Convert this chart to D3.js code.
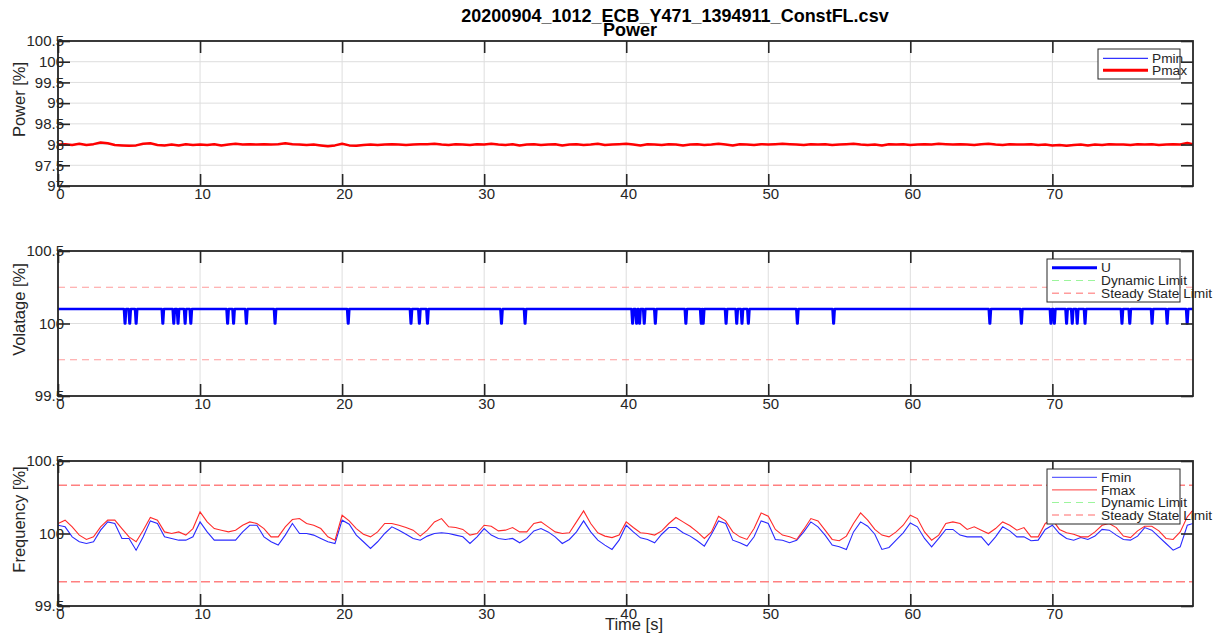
<!DOCTYPE html>
<html>
<head>
<meta charset="utf-8">
<script src="https://cdn.jsdelivr.net/npm/d3@7"></script>
<style>
  body { margin: 0; background: #fff; }
  svg { font-family: "Liberation Sans", Arial, sans-serif; }
</style>
</head>
<body>
<svg id="chart" width="1221" height="634"></svg>
<script>
// sample times [s] (0.5 s grid)
const sampleTime = [
  0,0.5,1,1.5,2,2.5,3,3.5,4,4.5, 5,5.5,6,6.5,7,7.5,8,8.5,9,9.5,
  10,10.5,11,11.5,12,12.5,13,13.5,14,14.5, 15,15.5,16,16.5,17,17.5,18,18.5,19,19.5,
  20,20.5,21,21.5,22,22.5,23,23.5,24,24.5, 25,25.5,26,26.5,27,27.5,28,28.5,29,29.5,
  30,30.5,31,31.5,32,32.5,33,33.5,34,34.5, 35,35.5,36,36.5,37,37.5,38,38.5,39,39.5,
  40,40.5,41,41.5,42,42.5,43,43.5,44,44.5, 45,45.5,46,46.5,47,47.5,48,48.5,49,49.5,
  50,50.5,51,51.5,52,52.5,53,53.5,54,54.5, 55,55.5,56,56.5,57,57.5,58,58.5,59,59.5,
  60,60.5,61,61.5,62,62.5,63,63.5,64,64.5, 65,65.5,66,66.5,67,67.5,68,68.5,69,69.5,
  70,70.5,71,71.5,72,72.5,73,73.5,74,74.5, 75,75.5,76,76.5,77,77.5,78,78.5,79,79.5,
  79.9
];

// power [%]
const pMax = [
  98.00,98.01,97.99,98.02,97.99,98.01,98.05,98.03,97.99,97.98,
  97.97,97.98,98.02,98.03,97.99,97.98,98.00,97.98,98.01,97.99,
  98.00,97.99,98.01,97.98,98.00,98.02,98.00,98.01,98.00,98.01,
  98.00,98.01,98.03,98.01,98.00,97.99,98.00,97.98,97.96,97.98,
  98.02,97.98,97.97,97.99,98.00,97.99,98.00,98.01,98.00,97.99,
  98.00,98.01,98.01,98.02,98.00,97.99,98.01,98.00,97.99,98.01,
  98.00,98.02,98.00,97.99,98.01,97.98,98.00,98.01,97.99,98.00,
  98.01,97.98,98.00,98.01,97.99,98.00,98.02,97.99,98.00,98.01,
  98.02,98.00,97.98,98.01,98.00,97.99,98.01,98.00,97.98,98.00,
  98.01,97.99,98.00,98.02,98.00,97.98,98.01,98.00,97.99,98.01,
  98.00,98.01,98.02,98.01,98.00,97.99,98.01,98.00,98.01,97.99,
  98.00,98.01,98.02,98.00,97.99,98.00,97.98,98.01,98.00,98.01,
  97.99,98.00,98.01,98.00,98.02,98.01,98.00,98.01,98.00,97.99,
  98.01,98.02,98.00,97.99,98.01,98.00,98.00,98.01,97.99,98.00,
  97.98,97.99,97.97,97.99,98.00,97.98,98.00,97.99,98.01,98.00,
  98.00,97.99,98.01,98.00,98.01,97.99,98.00,98.01,98.00,98.04,
  98.01
];
// Pmin lies completely under the Pmax trace
const pMin = pMax;

// voltage [%]: flat level with short dips
const uLevel = 100.1;
const uLow = 100.0;
const uDipTimes = [4.72, 5.05, 5.5, 7.38, 8.15, 8.45, 8.95, 9.35, 11.94, 12.36, 13.26, 15.28,
  20.43, 24.85, 25.44, 26.01, 31.22, 32.88, 40.45, 40.73, 40.94, 41.27, 42.05, 44.2,
  45.28, 45.42, 47.03, 47.78, 48.15, 48.6, 52.05, 54.6, 65.6, 67.82, 69.9, 70.14,
  71.0, 71.4, 71.75, 72.3, 74.9, 75.45, 77.02, 78.08, 79.49];
const uSteadyLimit = [99.75, 100.25];

// frequency [%]
const fMax = [
  100.069,100.092,100.046,99.989,99.959,99.977,100.046,100.092,100.092,100.034,
  99.977,99.943,100.023,100.110,100.092,100.011,100.000,100.011,99.989,100.034,
  100.149,100.080,100.034,100.023,100.011,100.023,100.057,100.080,100.069,100.034,
  99.977,99.977,100.046,100.096,100.103,100.069,100.057,100.034,99.977,99.954,
  100.126,100.087,100.034,99.995,99.977,100.011,100.069,100.069,100.057,100.041,
  100.023,99.982,100.023,100.080,100.103,100.046,100.041,100.028,99.989,100.000,
  100.057,100.050,100.018,100.023,100.041,100.011,100.011,100.069,100.080,100.046,
  100.011,100.000,100.005,100.080,100.156,100.069,100.005,99.982,99.972,99.989,
  100.080,100.041,100.005,100.000,99.989,100.018,100.069,100.110,100.080,100.050,
  100.011,99.966,100.011,100.119,100.087,100.011,99.977,99.959,100.034,100.142,
  100.119,100.028,99.989,99.977,99.959,100.028,100.103,100.087,100.023,99.959,
  99.950,99.982,100.069,100.142,100.092,100.028,99.989,99.977,100.011,100.057,
  100.126,100.103,100.011,99.954,99.989,100.069,100.080,100.069,100.028,100.046,
  100.023,100.000,100.034,100.080,100.057,100.023,100.041,99.977,99.977,100.069,
  100.096,100.028,100.005,99.995,99.977,99.977,100.011,100.057,100.069,100.041,
  99.982,99.972,100.018,100.050,100.050,100.018,99.966,99.959,100.011,100.115,
  100.161
];
const fMin = [
  100.057,100.046,99.977,99.943,99.931,99.943,100.023,100.080,100.069,99.966,
  99.966,99.885,99.977,100.087,100.069,99.977,99.966,99.954,99.954,99.977,
  100.080,100.011,99.954,99.954,99.954,99.954,100.011,100.057,100.057,99.977,
  99.943,99.920,99.989,100.069,100.000,100.000,99.989,99.966,99.943,99.931,
  100.092,100.064,99.989,99.943,99.897,99.943,100.000,100.046,100.023,99.995,
  99.966,99.954,99.982,100.000,100.005,100.000,99.989,99.977,99.931,99.977,
  100.034,99.989,99.966,99.959,99.966,99.936,99.966,100.018,100.034,100.011,
  99.977,99.931,99.959,100.011,100.087,100.011,99.954,99.920,99.890,99.954,
  100.057,100.011,99.970,99.959,99.936,99.995,100.041,100.041,100.005,99.982,
  99.950,99.913,99.995,100.087,100.069,99.954,99.936,99.913,99.977,100.087,
  100.069,99.959,99.954,99.936,99.954,100.011,100.080,100.046,99.989,99.920,
  99.908,99.890,100.011,100.080,100.050,99.995,99.890,99.904,99.954,100.005,
  100.073,100.046,99.966,99.908,99.966,100.028,100.028,99.989,99.977,99.977,
  99.977,99.920,99.977,100.046,100.018,99.977,99.977,99.950,99.954,100.028,
  100.057,100.000,99.966,99.954,99.972,99.959,99.982,100.028,100.023,99.989,
  99.959,99.954,99.982,100.041,100.023,99.977,99.931,99.885,99.908,100.057,
  100.069
];
const fSteadyLimit = [99.667, 100.333];

// axis ticks
const timeTicks = [0, 10, 20, 30, 40, 50, 60, 70];
const powerTicks = [97, 97.5, 98, 98.5, 99, 99.5, 100, 100.5];
const pctTicks = [99.5, 100, 100.5];

const titleText = "20200904_1012_ECB_Y471_1394911_ConstFL.csv";

const ink = "#262626";
const svg = d3.select("#chart");

let x = d3.scaleLinear().domain([0, 79.9]).range([58, 1193]);

// each subplot: its box, scale and label
let panels = [
  {top: 41, bottom: 186, domain: [97, 100.5], ticks: powerTicks, label: "Power [%]"},
  {top: 251, bottom: 396, domain: [99.5, 100.5], ticks: pctTicks, label: "Volatage [%]"},
  {top: 461, bottom: 606, domain: [99.5, 100.5], ticks: pctTicks, label: "Frequency [%]"}
];

panels.forEach((p, i) => {
  p.y = d3.scaleLinear().domain(p.domain).range([p.bottom, p.top]);
  p.g = svg.append("g");

  svg.append("clipPath").attr("id", "clip" + i)
    .append("rect")
    .attr("x", 58).attr("y", p.top)
    .attr("width", 1193 - 58).attr("height", p.bottom - p.top);

  // grid
  p.g.selectAll(".vgrid").data(timeTicks).enter().append("line")
    .attr("x1", d => x(d)).attr("x2", d => x(d))
    .attr("y1", p.top).attr("y2", p.bottom)
    .attr("stroke", "#dedede").attr("stroke-width", 1);
  p.g.selectAll(".hgrid").data(p.ticks).enter().append("line")
    .attr("x1", 58).attr("x2", 1193)
    .attr("y1", d => p.y(d)).attr("y2", d => p.y(d))
    .attr("stroke", "#dedede").attr("stroke-width", 1);

  p.data = p.g.append("g").attr("clip-path", `url(#clip${i})`);
});

function drawAxes(p) {
  let g = svg.append("g").attr("fill", ink);

  let left = g.append("g").attr("transform", "translate(58,0)")
    .call(d3.axisLeft(p.y).tickValues(p.ticks).tickSize(-12).tickSizeOuter(0).tickPadding(-6)
      .tickFormat(d3.format("")));
  let right = g.append("g").attr("transform", "translate(1193,0)")
    .call(d3.axisRight(p.y).tickValues(p.ticks).tickSize(-12).tickSizeOuter(0).tickFormat(""));
  let top = g.append("g").attr("transform", `translate(0,${p.top})`)
    .call(d3.axisTop(x).tickValues(timeTicks).tickSize(-12).tickSizeOuter(0).tickFormat(""));
  let bottom = g.append("g").attr("transform", `translate(0,${p.bottom})`)
    .call(d3.axisBottom(x).tickValues(timeTicks).tickSize(-12).tickSizeOuter(0).tickPadding(2));

  [left, right, top, bottom].forEach(a => {
    a.select(".domain").remove();
    a.selectAll("line").attr("stroke", ink).attr("stroke-width", 1.6);
    a.selectAll("text").attr("fill", ink).style("font-size", "15px")
      .style("font-family", '"Liberation Sans", Arial, sans-serif');
  });
  bottom.selectAll("text").attr("x", 2);

  g.append("rect")
    .attr("x", 58).attr("y", p.top)
    .attr("width", 1193 - 58).attr("height", p.bottom - p.top)
    .attr("fill", "none").attr("stroke", ink).attr("stroke-width", 1.8);

  svg.append("text")
    .attr("transform", `translate(25,${(p.top + p.bottom) / 2 - 14}) rotate(-90)`)
    .attr("text-anchor", "middle")
    .attr("fill", ink)
    .style("font-size", "16.5px")
    .text(p.label);
}

function drawLegend(box, rows, rowStep, entries) {
  let g = svg.append("g");
  g.append("rect")
    .attr("x", box.x).attr("y", box.y).attr("width", box.w).attr("height", box.h)
    .attr("fill", "#fff").attr("stroke", ink).attr("stroke-width", 1);
  entries.forEach((e, i) => {
    let yy = rows + i * rowStep;
    g.append("line")
      .attr("x1", box.x + 5).attr("x2", box.x + 50)
      .attr("y1", yy).attr("y2", yy)
      .attr("stroke", e.color).attr("stroke-width", e.width)
      .attr("stroke-dasharray", e.dash || null);
    g.append("text")
      .attr("x", box.x + 54).attr("y", yy).attr("dy", "0.35em")
      .attr("fill", ink).style("font-size", "13.7px")
      .text(e.label);
  });
}

let line = d3.line().x(d => x(d[0]));

// --- Power
let pw = panels[0];
pw.data.append("path")
  .attr("d", line.y(d => pw.y(d[1]))(sampleTime.map((t, i) => [t, pMin[i]])))
  .attr("fill", "none").attr("stroke", "#0000ff").attr("stroke-width", 1);
pw.data.append("path")
  .attr("d", line.y(d => pw.y(d[1]))(sampleTime.map((t, i) => [t, pMax[i]])))
  .attr("fill", "none").attr("stroke", "#ff0000").attr("stroke-width", 2.5)
  .attr("stroke-linejoin", "round");

// --- Voltage
let vp = panels[1];
vp.data.selectAll(".lim").data(uSteadyLimit).enter().append("line")
  .attr("x1", 58).attr("x2", 1193)
  .attr("y1", d => vp.y(d)).attr("y2", d => vp.y(d))
  .attr("stroke", "#ff9c9c").attr("stroke-width", 1.2)
  .attr("stroke-dasharray", "7,5");

let uPoints = [[0, uLevel]];
uDipTimes.forEach(t => {
  uPoints.push([t - 0.08, uLevel], [t - 0.02, uLow], [t + 0.02, uLow], [t + 0.08, uLevel]);
});
uPoints.push([79.9, uLevel]);
vp.data.append("path")
  .attr("d", line.y(d => vp.y(d[1]))(uPoints))
  .attr("fill", "none").attr("stroke", "#0000ff").attr("stroke-width", 2.5)
  .attr("stroke-linejoin", "round");

// --- Frequency
let fp = panels[2];
fp.data.selectAll(".lim").data(fSteadyLimit).enter().append("line")
  .attr("x1", 58).attr("x2", 1193)
  .attr("y1", d => fp.y(d)).attr("y2", d => fp.y(d))
  .attr("stroke", "#ff8080").attr("stroke-width", 1.6)
  .attr("stroke-dasharray", "9,4");
fp.data.append("path")
  .attr("d", line.y(d => fp.y(d[1]))(sampleTime.map((t, i) => [t, fMin[i]])))
  .attr("fill", "none").attr("stroke", "#2a2aff").attr("stroke-width", 1.1);
fp.data.append("path")
  .attr("d", line.y(d => fp.y(d[1]))(sampleTime.map((t, i) => [t, fMax[i]])))
  .attr("fill", "none").attr("stroke", "#ff2a2a").attr("stroke-width", 1.1);

panels.forEach(drawAxes);

// legends
const dynamicEntry = {label: "Dynamic Limit", color: "#9cf59c", width: 1.2, dash: "7,5"};
const steadyEntry = {label: "Steady State Limit", color: "#ff9c9c", width: 1.5, dash: "7,5"};
drawLegend({x: 1098, y: 49, w: 82, h: 30}, 58.3, 12, [
  {label: "Pmin", color: "#0000ff", width: 1},
  {label: "Pmax", color: "#ff0000", width: 3}
]);
drawLegend({x: 1047, y: 259, w: 133, h: 43}, 267.7, 12.8, [
  {label: "U", color: "#0000ff", width: 3},
  dynamicEntry, steadyEntry
]);
drawLegend({x: 1047, y: 469, w: 133, h: 55}, 477.3, 12.6, [
  {label: "Fmin", color: "#3b3bff", width: 1},
  {label: "Fmax", color: "#ff3b3b", width: 1},
  dynamicEntry, steadyEntry
]);

// titles
svg.append("text")
  .attr("x", 675).attr("y", 22)
  .attr("text-anchor", "middle").attr("fill", "#000")
  .style("font-size", "18px").style("font-weight", "bold")
  .text(titleText);
svg.append("text")
  .attr("x", 630).attr("y", 35.5)
  .attr("text-anchor", "middle").attr("fill", "#000")
  .style("font-size", "18px").style("font-weight", "bold")
  .text("Power");
svg.append("text")
  .attr("x", 634).attr("y", 630)
  .attr("text-anchor", "middle").attr("fill", ink)
  .style("font-size", "16.5px")
  .text("Time [s]");
</script>
</body>
</html>
